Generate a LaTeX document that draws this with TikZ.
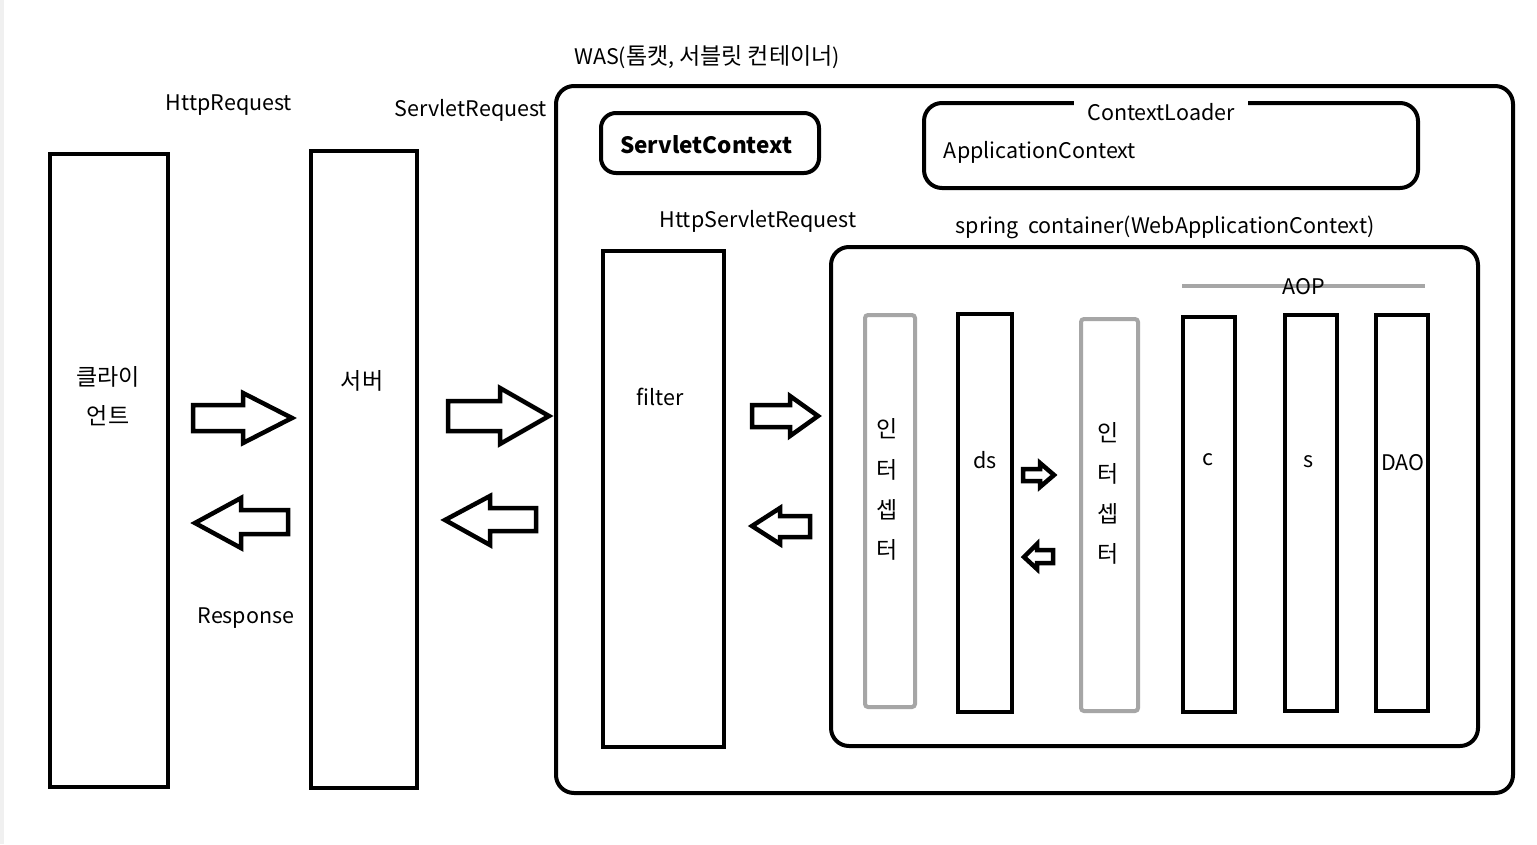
\documentclass[tikz,border=0pt]{standalone}
\usepackage{fontspec}
\setmainfont{Noto Sans CJK KR}
\newcommand{\ko}[1]{{\fontsize{23}{26}\selectfont #1}}
\begin{document}
\begin{tikzpicture}[x=1pt,y=-1pt,
  every node/.style={font=\fontsize{21.5}{26}\selectfont, inner sep=0pt},
  bar/.style={draw=black, line width=4pt},
  gbar/.style={draw=black!35, line width=4pt, rounded corners=3pt},
  rbox/.style={draw=black, line width=4pt, rounded corners=18pt},
  barrow/.style={draw=black, line width=4.5pt, line join=miter, fill=white},
  lbl/.style={anchor=center}]
\useasboundingbox (0,0) rectangle (1537,844);
\fill[white] (0,0) rectangle (1537,844);
\fill[black!6] (0,0) rectangle (4,844);

% client and server
\draw[bar] (50,154) rectangle (168,787);
\node[lbl] (cl1) at (108,377) {\ko{클라이}};
\node[lbl] (cl2) at (108,416) {\ko{언트}};
\draw[bar] (311,151) rectangle (417,788);
\node[lbl] (sv) at (362,381) {\ko{서버}};

\node[lbl] (hreq) at (229,105) {HttpRequest};
\node[lbl] (sreq) at (471,110) {ServletRequest};
\node[lbl] (resp) at (246,618) {Response};

% block arrows
\draw[barrow] (193,405) -- (243,405) -- (243,393) -- (292,418) -- (243,443) -- (243,431) -- (193,431) -- cycle;
\draw[barrow] (288,510) -- (241,510) -- (241,498) -- (195,523) -- (241,548) -- (241,534) -- (288,534) -- cycle;
\draw[barrow] (448,401) -- (500,401) -- (500,388) -- (549,416) -- (500,444) -- (500,431) -- (448,431) -- cycle;
\draw[barrow] (536,508) -- (490,508) -- (490,496) -- (445,520) -- (490,545) -- (490,531) -- (536,531) -- cycle;
\draw[barrow] (752,405) -- (790,405) -- (790,396) -- (818,416) -- (790,436) -- (790,427) -- (752,427) -- cycle;
\draw[barrow] (810,516) -- (780,516) -- (780,508) -- (752,526) -- (780,544) -- (780,537) -- (810,537) -- cycle;
\draw[barrow] (1023,469) -- (1040,469) -- (1040,463) -- (1054,475) -- (1040,487) -- (1040,481) -- (1023,481) -- cycle;
\draw[barrow] (1053,550) -- (1037,550) -- (1037,544) -- (1024,557) -- (1037,569) -- (1037,563) -- (1053,563) -- cycle;

% WAS
\node[lbl] (was) at (707,57) {WAS(\ko{톰캣}, \ko{서블릿 컨테이너})};
\draw[rbox] (556,86) rectangle (1513,793);

\draw[draw=black, line width=4pt, rounded corners=15pt] (601,113) rectangle (819,173);
\node[lbl, font=\fontsize{22.5}{26}\selectfont\bfseries] (sc) at (706,145) {ServletContext};

\draw[rbox] (924,103) rectangle (1418,188);
\node[lbl, fill=white, inner xsep=13pt, inner ysep=2pt] (cload) at (1161,112) {ContextLoader};
\node[lbl] (actx) at (1040,152) {ApplicationContext};

\node[lbl] (hsreq) at (758,221) {HttpServletRequest};
\draw[bar] (603,251) rectangle (724,747);
\node[lbl] (flt) at (660,397) {filter};

\node[lbl] (spc) at (1165,227) {spring\ \ container(WebApplicationContext)};
\draw[rbox] (831,247) rectangle (1478,746);

% AOP
\draw[draw=black!35, line width=4pt] (1182,286) -- (1425,286);
\node[lbl] (aop) at (1304,287) {AOP};

% interceptor 1
\draw[gbar] (865,315) rectangle (915,707);
\node[lbl] (i1a) at (887,429) {\ko{인}};
\node[lbl] (i1b) at (887,470) {\ko{터}};
\node[lbl] (i1c) at (887,510) {\ko{셉}};
\node[lbl] (i1d) at (887,550) {\ko{터}};

% ds
\draw[bar] (958,314) rectangle (1012,712);
\node[lbl] (ds) at (985,460) {ds};

% interceptor 2
\draw[gbar] (1081,319) rectangle (1138,711);
\node[lbl] (i2a) at (1108,433) {\ko{인}};
\node[lbl] (i2b) at (1108,474) {\ko{터}};
\node[lbl] (i2c) at (1108,514) {\ko{셉}};
\node[lbl] (i2d) at (1108,554) {\ko{터}};

% c s DAO
\draw[bar] (1183,317) rectangle (1235,712);
\node[lbl] (cc) at (1208,460) {c};
\draw[bar] (1285,315) rectangle (1337,711);
\node[lbl] (ss) at (1309,462) {s};
\draw[bar] (1376,315) rectangle (1428,711);
\node[lbl] (dao) at (1403,463) {DAO};
\end{tikzpicture}
\end{document}
